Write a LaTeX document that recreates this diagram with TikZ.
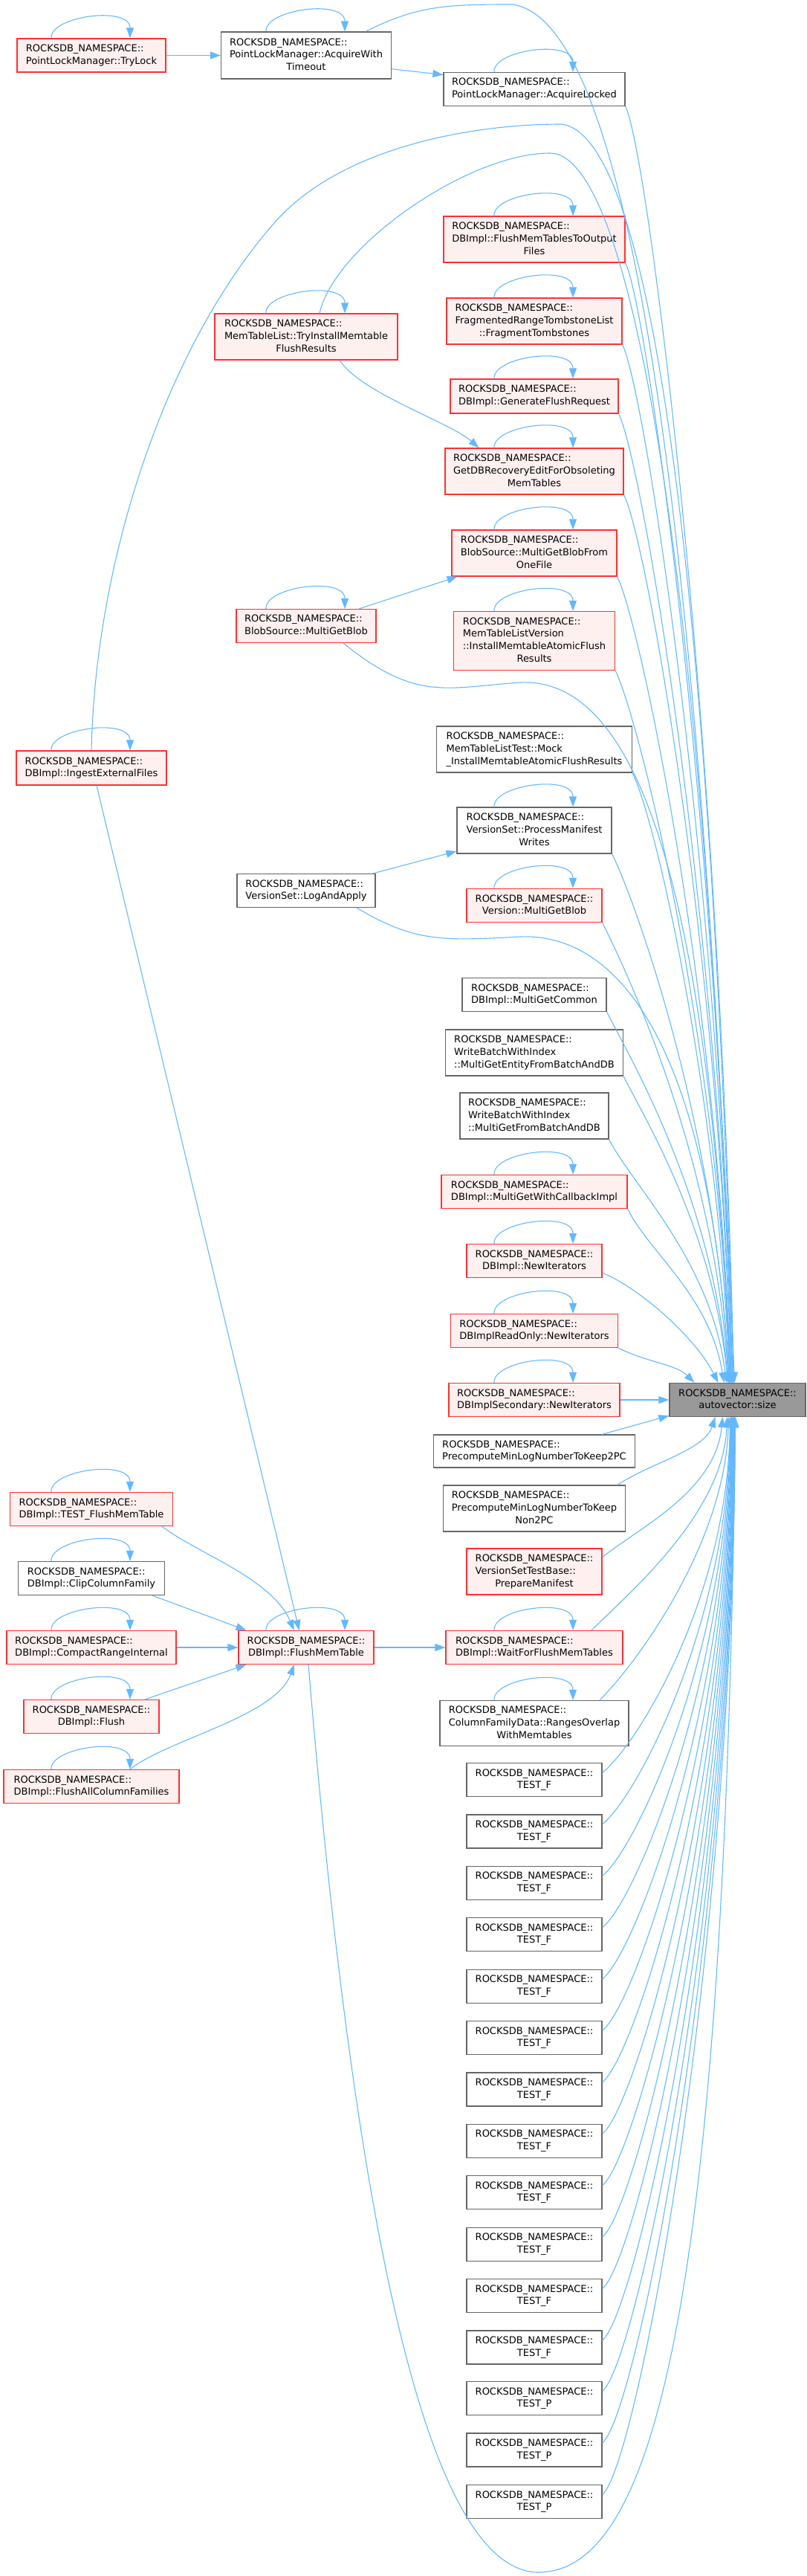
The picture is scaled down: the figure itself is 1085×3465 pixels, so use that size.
\documentclass[tikz,border=0pt]{standalone}
\usepackage{fontspec}
\setmainfont{DejaVu Sans}
\usetikzlibrary{arrows.meta}
\definecolor{edgeblue}{HTML}{63B8FF}
\definecolor{redfill}{HTML}{FFF0F0}
\definecolor{redline}{HTML}{FF3030}
\definecolor{greyline}{HTML}{666666}
\definecolor{sizefill}{HTML}{999999}
\newcommand{\ns}{ROCKSDB\_NAMESPACE::}
\newcommand{\lbl}[2]{\begin{tabular}{@{}l@{}}\ns#1\\\multicolumn{1}{@{}c@{}}{#2}\end{tabular}}

\begin{document}
\begin{tikzpicture}[x=1pt,y=-1pt,
  box/.style={draw=greyline,fill=white,line width=1.2pt,minimum height=45,inner sep=0pt,font=\fontsize{13}{16.7}\selectfont},
  redbox/.style={box,draw=redline,fill=redfill},
  edge/.style={draw=edgeblue,line width=1.1pt,-{Triangle[length=14pt,width=10pt]}}]
  \useasboundingbox (0,0) rectangle (1085,3465);
  % left column
  \node[redbox,minimum width=200] (trylock) at (123,74.5) {\lbl{}{PointLockManager::TryLock}};
  \node[redbox,minimum width=202,minimum height=46] (ingest) at (123,1033) {\lbl{}{DBImpl::IngestExternalFiles}};
  \node[redbox,minimum width=219] (tfm) at (123,2030) {\lbl{}{DBImpl::TEST\_FlushMemTable}};
  \node[box,minimum width=197] (clip) at (123,2123) {\lbl{}{DBImpl::ClipColumnFamily}};
  \node[redbox,minimum width=228] (cri) at (123,2216) {\lbl{}{DBImpl::CompactRangeInternal}};
  \node[redbox,minimum width=182] (flush) at (123,2309) {\lbl{}{DBImpl::Flush}};
  \node[redbox,minimum width=236] (facf) at (123,2403) {\lbl{}{DBImpl::FlushAllColumnFamilies}};
  % middle column
  \node[box,minimum width=229,minimum height=63] (awt) at (412,74.5) {\lbl{\\PointLockManager::AcquireWith}{Timeout}};
  \node[redbox,minimum width=246,minimum height=62] (tryinst) at (412,453) {\lbl{\\MemTableList::TryInstallMemtable}{FlushResults}};
  \node[redbox,minimum width=188] (blob) at (412,842) {\lbl{}{BlobSource::MultiGetBlob}};
  \node[box,minimum width=186] (logapply) at (412,1198) {\lbl{}{VersionSet::LogAndApply}};
  \node[redbox,minimum width=182] (fmt) at (412,2216) {\lbl{}{DBImpl::FlushMemTable}};
  % right column
  \node[box,minimum width=244] (locked) at (719,120) {\lbl{}{PointLockManager::AcquireLocked}};
  \node[redbox,minimum width=244,minimum height=62] (fmtof) at (719,322) {\lbl{\\DBImpl::FlushMemTablesToOutput}{Files}};
  \node[redbox,minimum width=236,minimum height=62] (frag) at (719,432) {\lbl{\\FragmentedRangeTombstoneList}{::FragmentTombstones}};
  \node[redbox,minimum width=226,minimum height=46] (genflush) at (719,533) {\lbl{}{DBImpl::GenerateFlushRequest}};
  \node[redbox,minimum width=240,minimum height=62] (recov) at (719,634) {\lbl{\\GetDBRecoveryEditForObsoleting}{MemTables}};
  \node[redbox,minimum width=222,minimum height=62] (blobone) at (719,744) {\lbl{\\BlobSource::MultiGetBlobFrom}{OneFile}};
  \node[redbox,minimum width=217,minimum height=79] (instatomic) at (719,862) {\lbl{\\MemTableListVersion\\::InstallMemtableAtomicFlush}{Results}};
  \node[box,minimum width=263,minimum height=62] (mock) at (719,1008) {\lbl{\\MemTableListTest::Mock}{\_InstallMemtableAtomicFlushResults}};
  \node[box,minimum width=208,minimum height=62] (pmw) at (719,1117) {\lbl{\\VersionSet::ProcessManifest}{Writes}};
  \node[redbox,minimum width=182] (vmgb) at (719,1218) {\lbl{}{Version::MultiGetBlob}};
  \node[box,minimum width=194] (mgc) at (719,1338) {\lbl{}{DBImpl::MultiGetCommon}};
  \node[box,minimum width=239,minimum height=62] (mgent) at (719,1416) {\lbl{\\WriteBatchWithIndex}{::MultiGetEntityFromBatchAndDB}};
  \node[box,minimum width=200,minimum height=62] (mgfrom) at (719,1501) {\lbl{\\WriteBatchWithIndex}{::MultiGetFromBatchAndDB}};
  \node[redbox,minimum width=250] (mgcb) at (719,1603) {\lbl{}{DBImpl::MultiGetWithCallbackImpl}};
  \node[redbox,minimum width=182] (newit) at (719,1696) {\lbl{}{DBImpl::NewIterators}};
  \node[redbox,minimum width=225] (roit) at (719,1790) {\lbl{}{DBImplReadOnly::NewIterators}};
  \node[redbox,minimum width=230] (secit) at (719,1883) {\lbl{}{DBImplSecondary::NewIterators}};
  \node[box,minimum width=271,minimum height=44] (pre2pc) at (719,1952) {\lbl{}{PrecomputeMinLogNumberToKeep2PC}};
  \node[box,minimum width=245,minimum height=62] (non2pc) at (719,2029) {\lbl{\\PrecomputeMinLogNumberToKeep}{Non2PC}};
  \node[redbox,minimum width=182,minimum height=62] (prepman) at (719,2114) {\lbl{\\VersionSetTestBase::}{PrepareManifest}};
  \node[redbox,minimum width=238] (wait) at (719,2216) {\lbl{}{DBImpl::WaitForFlushMemTables}};
  \node[box,minimum width=254,minimum height=61] (ranges) at (719,2318) {\lbl{\\ColumnFamilyData::RangesOverlap}{WithMemtables}};
  \foreach \i in {0,...,11}
    \node[box,minimum width=182] (tf\i) at (719,{2394+69.4*\i}) {\lbl{}{TEST\_F}};
  \foreach \i in {0,1,2}
    \node[box,minimum width=182] (tp\i) at (719,{3226+69.5*\i}) {\lbl{}{TEST\_P}};
  % callee
  \node[box,fill=sizefill,minimum width=183] (size) at (992.5,1883) {\lbl{}{autovector::size}};

  % self calls
  \foreach \n in {trylock,awt,locked,fmtof,frag,tryinst,genflush,recov,blobone,blob,instatomic,ingest,pmw,vmgb,mgcb,newit,roit,secit,tfm,clip,cri,fmt,wait,flush,ranges,facf}
    \draw[edge] ([xshift=-54]\n.north) .. controls +(-2,-30) and +(0,-44) .. ([xshift=52]\n.north);

  % calls between callers
  \draw[edge] (trylock.east) -- (awt.west);
  \draw[edge] (awt.-9) -- (locked.171);
  \draw[edge] ([xshift=45]tryinst.south) .. controls +(30,45) and +(-40,-35) .. (recov.157);
  \draw[edge] ([xshift=71]blob.north) -- (blobone.-163);
  \draw[edge] ([xshift=-4]logapply.north east) -- (pmw.-165);
  \draw[edge] ([xshift=7]ingest.south) -- (fmt.112);
  \draw[edge] ([xshift=95]tfm.south) .. controls +(45,35) and +(-30,-70) .. (fmt.125);
  \draw[edge] ([xshift=82]clip.south) -- (fmt.164);
  \draw[edge] (cri.east) -- (fmt.west);
  \draw[edge] ([xshift=72]flush.north) -- (fmt.-164);
  \draw[edge] ([xshift=52]facf.north) .. controls +(50,-40) and +(-25,70) .. (fmt.-125);
  \draw[edge] (fmt.east) -- (wait.west);

  % calls of autovector::size from above
  \draw[edge] ([xshift=80]awt.north) .. controls +(70,-35) and +(-90,0) .. (690,6) .. controls +(160,24) and +(-49,-1160) .. ([xshift=-4]size.north);
  \draw[edge] (ingest.north) .. controls +(5,-250) and +(-149,170) .. (369,300) .. controls +(91,-104) and +(-115,0) .. (755,167) .. controls +(125,13) and +(-32,-1060) .. ([xshift=-5]size.north);
  \draw[edge] ([xshift=18]tryinst.north) .. controls +(20,-90) and +(-110,0) .. (740,206) .. controls +(120,0) and +(-35,-1000) .. ([xshift=-6]size.north);
  \draw[edge] ([xshift=50]blob.south) .. controls +(98,79) and +(-100,7) .. (700,918) .. controls +(130,-6) and +(-32,-760) .. ([xshift=-10]size.north);
  \draw[edge] ([xshift=68]logapply.south) .. controls +(80,48) and +(-100,5) .. (700,1260) .. controls +(130,-5) and +(-28,-460) .. ([xshift=-11]size.north);
  \foreach \n/\dx/\l in {locked/-5/900,fmtof/-7/750,frag/-7/700,genflush/-8/650,recov/-8/600,blobone/-9/540,instatomic/-9/480,mock/-10/410,pmw/-11/355,vmgb/-12/310,mgc/-13/250,mgent/-13/206,mgfrom/-15/164,mgcb/-18/118}
    \draw[edge] (\n.south east) .. controls +(30,60) and +(-20,-\l) .. ([xshift=\dx]size.north);
  \draw[edge] (newit.-10) .. controls +(50,20) and +(-30,-60) .. ([xshift=-26]size.north);
  \draw[edge] (roit.south east) .. controls +(40,20) and +(-25,-25) .. ([xshift=-58]size.north);
  \draw[edge] (secit.east) -- (size.west);

  % calls of autovector::size from below
  \draw[edge] ([xshift=91]pre2pc.north) -- (size.-167);
  \draw[edge] ([xshift=112]non2pc.north) .. controls +(45,-30) and +(-15,45) .. ([xshift=-30]size.south);
  \draw[edge] (prepman.12) .. controls +(50,-40) and +(-10,100) .. ([xshift=-20]size.south);
  \draw[edge] ([xshift=77]wait.north) .. controls +(50,-50) and +(-5,130) .. ([xshift=-14]size.south);
  \draw[edge] ([xshift=88]ranges.north) .. controls +(50,-50) and +(-5,170) .. ([xshift=-12]size.south);
  \foreach \i in {0,...,11}
    \draw[edge] (tf\i.6) .. controls +(45,-35) and +(-3,{0.5*(489+69.4*\i)}) .. ([xshift={-10+0.5*\i}]size.south);
  \foreach \i in {0,1,2}
    \draw[edge] (tp\i.6) .. controls +(45,-35) and +(-3,{0.5*(1321+69.5*\i)}) .. ([xshift={-4+0.5*\i}]size.south);
  \draw[edge] ([xshift=3]fmt.south) .. controls +(55,660) and +(-163,-5) .. (723,3460) .. controls +(157,2) and +(-14,1195) .. ([xshift=-3]size.south);
\end{tikzpicture}
\end{document}
